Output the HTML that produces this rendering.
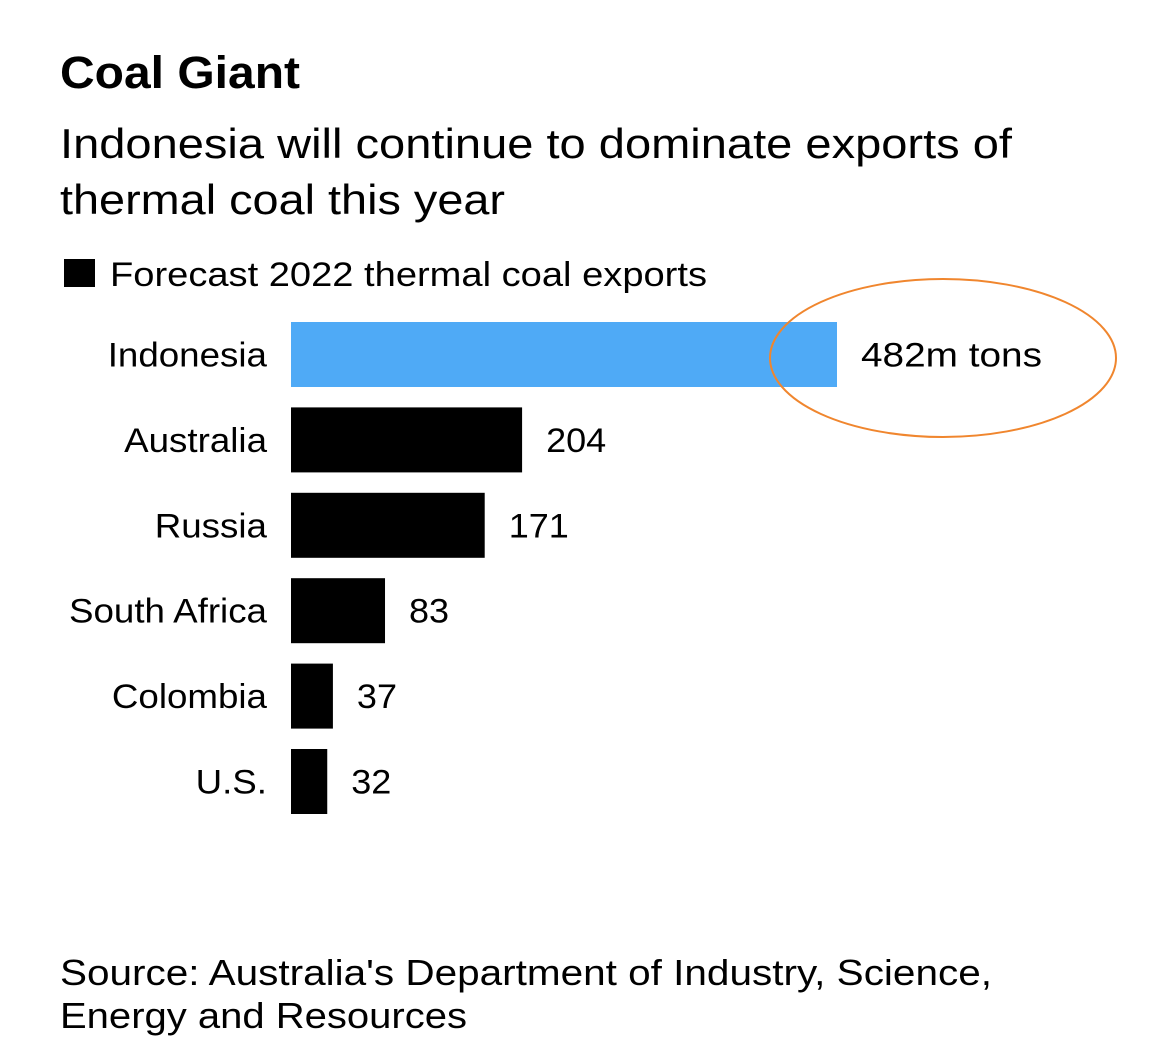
<!DOCTYPE html>
<html><head><meta charset="utf-8"><style>
body{margin:0;background:#fff;width:1169px;height:1059px;overflow:hidden;font-family:"Liberation Sans",sans-serif;}
</style></head><body>
<svg width="1169" height="1059" style="position:absolute;left:0;top:0">
<text x="60" y="88" font-size="45" font-weight="bold" fill="#000" textLength="240" lengthAdjust="spacingAndGlyphs">Coal Giant</text>
<text x="60" y="158" font-size="42" fill="#000" textLength="952" lengthAdjust="spacingAndGlyphs">Indonesia will continue to dominate exports of</text>
<text x="60" y="214" font-size="42" fill="#000" textLength="445" lengthAdjust="spacingAndGlyphs">thermal coal this year</text>
<rect x="64" y="259" width="31" height="28" fill="#000"/>
<text x="110" y="286" font-size="34" fill="#000" textLength="597" lengthAdjust="spacingAndGlyphs">Forecast 2022 thermal coal exports</text>
<g id="bars"></g>
<ellipse cx="943" cy="358" rx="173" ry="79" fill="none" stroke="#f0862e" stroke-width="2"/>
<text x="60" y="985" font-size="36" fill="#000" textLength="932" lengthAdjust="spacingAndGlyphs">Source: Australia's Department of Industry, Science,</text>
<text x="60" y="1028" font-size="36" fill="#000" textLength="407" lengthAdjust="spacingAndGlyphs">Energy and Resources</text>
</svg>
<script>
const categories=["Indonesia","Australia","Russia","South Africa","Colombia","U.S."];
const values=[482,204,171,83,37,32];
const valueLabels=["482m tons","204","171","83","37","32"];
const ns="http://www.w3.org/2000/svg";
const g=document.getElementById('bars');
const x0=291, scale=546/482, y0=322, step=85.4, bh=65;
function xs(v){return v*scale;}
function ys(i){return y0+i*step;}
function stretch(t,k){const w=t.getComputedTextLength();t.setAttribute('textLength',w*k);t.setAttribute('lengthAdjust','spacingAndGlyphs');}
categories.forEach((c,i)=>{
  const r=document.createElementNS(ns,'rect');
  r.setAttribute('x',x0);r.setAttribute('y',ys(i));r.setAttribute('width',xs(values[i]));r.setAttribute('height',bh);
  r.setAttribute('fill',i===0?'#4faaf6':'#000');
  
  
  g.appendChild(r);
  const t=document.createElementNS(ns,'text');
  t.setAttribute('x',267);t.setAttribute('y',ys(i)+bh/2+12);t.setAttribute('text-anchor','end');t.setAttribute('font-size','34');
  t.textContent=c;
  
  
  g.appendChild(t);
  stretch(t,1.08);
  const v=document.createElementNS(ns,'text');
  v.setAttribute('x',x0+xs(values[i])+24);v.setAttribute('y',ys(i)+bh/2+12);v.setAttribute('font-size','34');
  v.textContent=valueLabels[i];
  
  
  g.appendChild(v);
  stretch(v,i===0?1.14:1.06);
});
</script>
</body></html>
